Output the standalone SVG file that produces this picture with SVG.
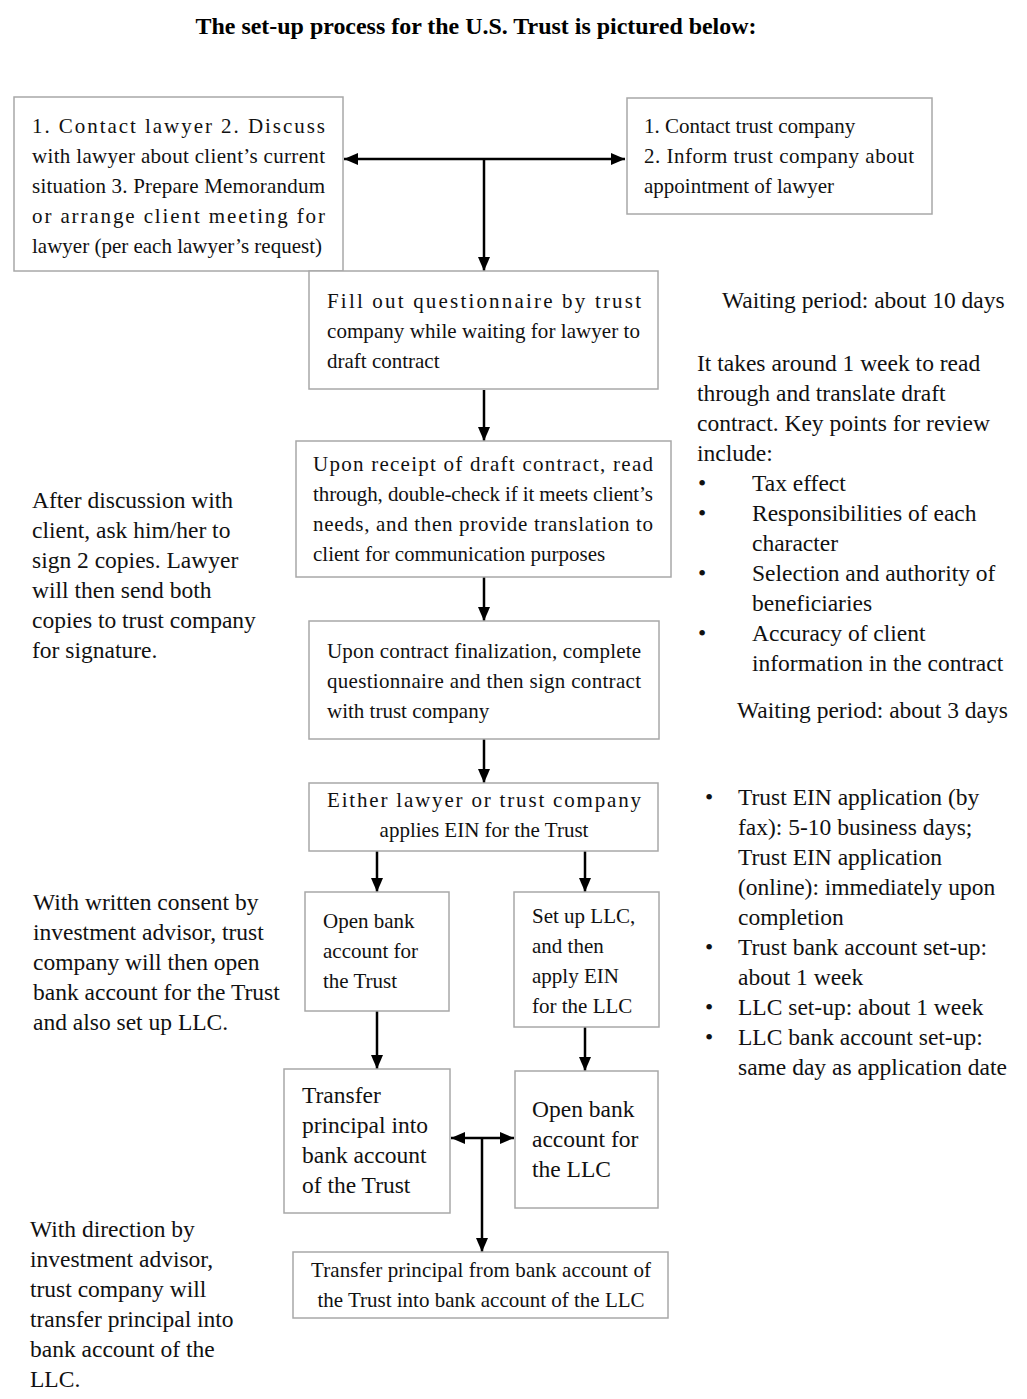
<svg xmlns="http://www.w3.org/2000/svg" width="1027" height="1399" viewBox="0 0 1027 1399">
<style>
text{font-family:"Liberation Serif","Times New Roman",serif;fill:#111}
.b{font-size:21px}
.bl{font-size:23.5px}
.s{font-size:23.5px}
.t{font-size:23.5px;font-weight:bold;fill:#000}
rect{fill:#fff;stroke:#a8a8a8;stroke-width:1.5}
.c line{stroke:#000;stroke-width:2.5}
</style>
<defs>
<marker id="ah" viewBox="0 0 14 12" refX="14" refY="6" markerWidth="14" markerHeight="12" markerUnits="userSpaceOnUse" orient="auto-start-reverse">
<path d="M0,0 L14,6 L0,12 Z" fill="#000"/>
</marker>
</defs>
<rect x="0" y="0" width="1027" height="1399" style="fill:#fff;stroke:none"/>
<text class="t" x="476" y="34" text-anchor="middle" textLength="561" lengthAdjust="spacingAndGlyphs">The set-up process for the U.S. Trust is pictured below:</text>

<g class="c" id="connectors">
<line x1="344" y1="159" x2="625" y2="159" marker-start="url(#ah)" marker-end="url(#ah)"/>
<line x1="484" y1="159" x2="484" y2="271" marker-end="url(#ah)"/>
<line x1="484" y1="390" x2="484" y2="441" marker-end="url(#ah)"/>
<line x1="484" y1="577" x2="484" y2="621" marker-end="url(#ah)"/>
<line x1="484" y1="739" x2="484" y2="783" marker-end="url(#ah)"/>
<line x1="377" y1="851" x2="377" y2="892" marker-end="url(#ah)"/>
<line x1="585" y1="851" x2="585" y2="892" marker-end="url(#ah)"/>
<line x1="377" y1="1011" x2="377" y2="1069" marker-end="url(#ah)"/>
<line x1="585" y1="1027" x2="585" y2="1071" marker-end="url(#ah)"/>
<line x1="451" y1="1138" x2="514" y2="1138" marker-start="url(#ah)" marker-end="url(#ah)"/>
<line x1="482" y1="1138" x2="482" y2="1252" marker-end="url(#ah)"/>
</g>

<g id="n1">
<rect x="14" y="97" width="329" height="174"/>
<text class="b" x="32" y="133" textLength="293" lengthAdjust="spacing">1. Contact lawyer 2. Discuss</text>
<text class="b" x="32" y="163" textLength="293" lengthAdjust="spacing">with lawyer about client’s current</text>
<text class="b" x="32" y="193" textLength="293" lengthAdjust="spacing">situation 3. Prepare Memorandum</text>
<text class="b" x="32" y="223" textLength="293" lengthAdjust="spacing">or arrange client meeting for</text>
<text class="b" x="32" y="253" textLength="290" lengthAdjust="spacing">lawyer (per each lawyer’s request)</text>
</g>

<g id="n2">
<rect x="627" y="98" width="305" height="116"/>
<text class="b" x="644" y="133">1. Contact trust company</text>
<text class="b" x="644" y="163" textLength="270" lengthAdjust="spacing">2. Inform trust company about</text>
<text class="b" x="644" y="193">appointment of lawyer</text>
</g>

<g id="n3">
<rect x="309" y="271" width="349" height="118"/>
<text class="b" x="327" y="308" textLength="314" lengthAdjust="spacing">Fill out questionnaire by trust</text>
<text class="b" x="327" y="338" textLength="313" lengthAdjust="spacing">company while waiting for lawyer to</text>
<text class="b" x="327" y="368">draft contract</text>
</g>

<g id="n4">
<rect x="296" y="441" width="375" height="136"/>
<text class="b" x="313" y="471" textLength="340" lengthAdjust="spacing">Upon receipt of draft contract, read</text>
<text class="b" x="313" y="501" textLength="340" lengthAdjust="spacing">through, double-check if it meets client’s</text>
<text class="b" x="313" y="531" textLength="340" lengthAdjust="spacing">needs, and then provide translation to</text>
<text class="b" x="313" y="561">client for communication purposes</text>
</g>

<g id="n5">
<rect x="309" y="621" width="350" height="118"/>
<text class="b" x="327" y="658" textLength="314" lengthAdjust="spacing">Upon contract finalization, complete</text>
<text class="b" x="327" y="688" textLength="314" lengthAdjust="spacing">questionnaire and then sign contract</text>
<text class="b" x="327" y="718">with trust company</text>
</g>

<g id="n6">
<rect x="309" y="783" width="349" height="68"/>
<text class="b" x="327" y="807" textLength="314" lengthAdjust="spacing">Either lawyer or trust company</text>
<text class="b" x="484" y="837" text-anchor="middle">applies EIN for the Trust</text>
</g>

<g id="n7">
<rect x="305" y="892" width="144" height="119"/>
<text class="b" x="323" y="928">Open bank</text>
<text class="b" x="323" y="958">account for</text>
<text class="b" x="323" y="988">the Trust</text>
</g>

<g id="n8">
<rect x="514" y="892" width="145" height="135"/>
<text class="b" x="532" y="923">Set up LLC,</text>
<text class="b" x="532" y="953">and then</text>
<text class="b" x="532" y="983">apply EIN</text>
<text class="b" x="532" y="1013">for the LLC</text>
</g>

<g id="n9">
<rect x="284" y="1069" width="166" height="144"/>
<text class="bl" x="302" y="1103">Transfer</text>
<text class="bl" x="302" y="1133">principal into</text>
<text class="bl" x="302" y="1163">bank account</text>
<text class="bl" x="302" y="1193">of the Trust</text>
</g>

<g id="n10">
<rect x="515" y="1071" width="143" height="137"/>
<text class="bl" x="532" y="1117">Open bank</text>
<text class="bl" x="532" y="1147">account for</text>
<text class="bl" x="532" y="1177">the LLC</text>
</g>

<g id="n11">
<rect x="293" y="1252" width="375" height="66"/>
<text class="b" x="311" y="1277" textLength="340" lengthAdjust="spacing">Transfer principal from bank account of</text>
<text class="b" x="481" y="1307" text-anchor="middle">the Trust into bank account of the LLC</text>
</g>

<g id="notes-right">
<text class="s" x="722" y="308">Waiting period: about 10 days</text>
<text class="s" x="697" y="371">It takes around 1 week to read</text>
<text class="s" x="697" y="401">through and translate draft</text>
<text class="s" x="697" y="431">contract. Key points for review</text>
<text class="s" x="697" y="461">include:</text>
<text class="s" x="698" y="491">•</text>
<text class="s" x="752" y="491">Tax effect</text>
<text class="s" x="698" y="521">•</text>
<text class="s" x="752" y="521">Responsibilities of each</text>
<text class="s" x="752" y="551">character</text>
<text class="s" x="698" y="581">•</text>
<text class="s" x="752" y="581">Selection and authority of</text>
<text class="s" x="752" y="611">beneficiaries</text>
<text class="s" x="698" y="641">•</text>
<text class="s" x="752" y="641">Accuracy of client</text>
<text class="s" x="752" y="671">information in the contract</text>
<text class="s" x="737" y="718">Waiting period: about 3 days</text>

<text class="s" x="705" y="805">•</text>
<text class="s" x="738" y="805">Trust EIN application (by</text>
<text class="s" x="738" y="835">fax): 5-10 business days;</text>
<text class="s" x="738" y="865">Trust EIN application</text>
<text class="s" x="738" y="895">(online): immediately upon</text>
<text class="s" x="738" y="925">completion</text>
<text class="s" x="705" y="955">•</text>
<text class="s" x="738" y="955">Trust bank account set-up:</text>
<text class="s" x="738" y="985">about 1 week</text>
<text class="s" x="705" y="1015">•</text>
<text class="s" x="738" y="1015">LLC set-up: about 1 week</text>
<text class="s" x="705" y="1045">•</text>
<text class="s" x="738" y="1045">LLC bank account set-up:</text>
<text class="s" x="738" y="1075">same day as application date</text>
</g>

<g id="notes-left">
<text class="s" x="32" y="508">After discussion with</text>
<text class="s" x="32" y="538">client, ask him/her to</text>
<text class="s" x="32" y="568">sign 2 copies. Lawyer</text>
<text class="s" x="32" y="598">will then send both</text>
<text class="s" x="32" y="628">copies to trust company</text>
<text class="s" x="32" y="658">for signature.</text>

<text class="s" x="33" y="910">With written consent by</text>
<text class="s" x="33" y="940">investment advisor, trust</text>
<text class="s" x="33" y="970">company will then open</text>
<text class="s" x="33" y="1000">bank account for the Trust</text>
<text class="s" x="33" y="1030">and also set up LLC.</text>

<text class="s" x="30" y="1237">With direction by</text>
<text class="s" x="30" y="1267">investment advisor,</text>
<text class="s" x="30" y="1297">trust company will</text>
<text class="s" x="30" y="1327">transfer principal into</text>
<text class="s" x="30" y="1357">bank account of the</text>
<text class="s" x="30" y="1387">LLC.</text>
</g>
</svg>
